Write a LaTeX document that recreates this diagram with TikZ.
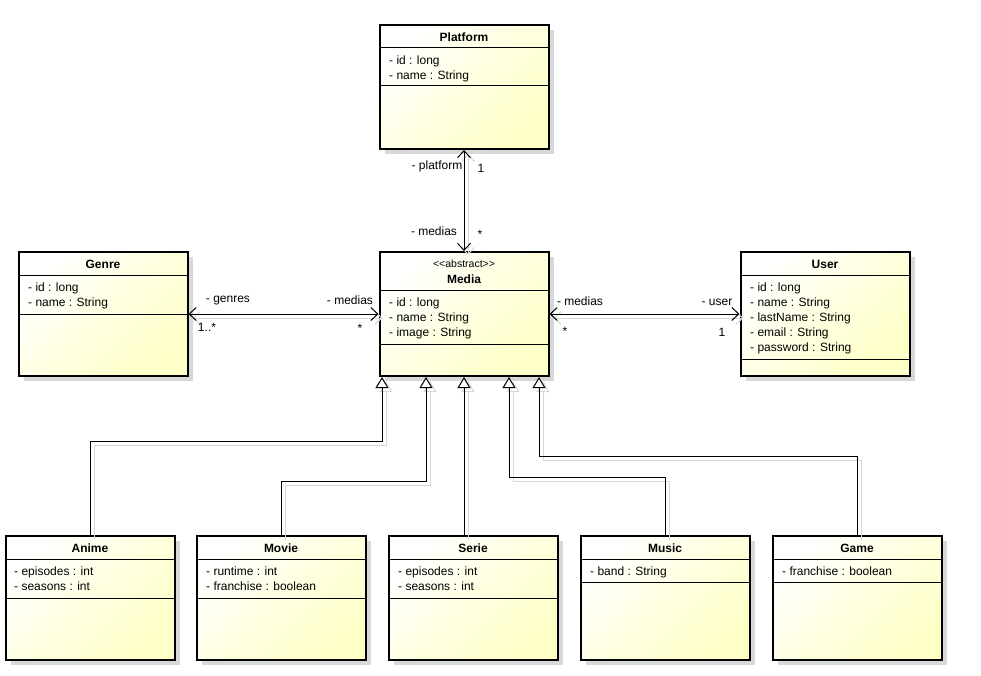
\documentclass[tikz,border=0pt]{standalone}
\usepackage{fontspec}
\setmainfont{Liberation Sans}
\usetikzlibrary{arrows.meta,shadows}

\definecolor{umlyellow}{HTML}{FFFFC8}
\definecolor{umlshadow}{HTML}{D8D8D8}

\tikzset{
  classbox/.style={draw=black, line width=2pt, minimum width=169pt, minimum height=124pt,
    inner sep=0pt, top color=white, bottom color=umlyellow, middle color=umlyellow!55!white,
    shading angle=45,
    drop shadow={shadow xshift=5pt, shadow yshift=-5pt, fill=umlshadow, opacity=1}},
  classname/.style={font=\fontsize{12}{14}\selectfont\bfseries, inner sep=0pt},
  stereo/.style={font=\fontsize{10.5}{12}\selectfont, inner sep=0pt},
  attrs/.style={anchor=north west, align=left, inner sep=0pt, font=\fontsize{12}{15}\selectfont},
  sepline/.style={line width=1pt},
  lbl/.style={font=\fontsize{12}{14}\selectfont, inner sep=0pt},
  assoc/.style={line width=1pt, {Straight Barb[length=7pt,width=13pt]}-{Straight Barb[length=7pt,width=13pt]}},
  genline/.style={line width=1pt, -{Triangle[open,length=11pt,width=13pt,fill=white]}},
  shadowlinks/.style={transform canvas={shift={(4pt,-4pt)}}, draw=umlshadow},
}

% all connectors, drawn once as shadow and once in black
\newcommand{\drawlinks}[1]{%
\draw[assoc,#1] (platform.south) -- (media.north);
\draw[assoc,#1] (genre.east) -- (media.west);
\draw[assoc,#1] (media.east) -- (user.west);
\draw[genline,#1] (anime.north) |- (ganime) -- (ganime |- media.south);
\draw[genline,#1] (movie.north) |- (gmovie) -- (gmovie |- media.south);
\draw[genline,#1] (media.south |- serie.north) -- (media.south);
\draw[genline,#1] (music.north) |- (gmusic) -- (gmusic |- media.south);
\draw[genline,#1] (game.north) |- (ggame) -- (ggame |- media.south);
}

\begin{document}
\begin{tikzpicture}[x=1pt,y=-1pt]
\useasboundingbox (0,0) rectangle (981,676);

% top row
\node[classbox] (platform) at (464,87) {};
\node[classname] (platformname) at (464,37) {Platform};
\draw[sepline] (380,48) -- (548,48);
\node[attrs] (platformattrs) at (389,56) {- id : long\\- name : String};
\draw[sepline] (380,86) -- (548,86);

% middle row
\node[classbox] (genre) at (103,314) {};
\node[classname] (genrename) at (103,264) {Genre};
\draw[sepline] (19,275) -- (187,275);
\node[attrs] (genreattrs) at (28,283) {- id : long\\- name : String};
\draw[sepline] (19,314) -- (187,314);

\node[classbox] (media) at (464,314) {};
\node[stereo] (mediastereo) at (464,264) {\textless\kern0pt\textless\kern0pt abstract\textgreater\kern0pt\textgreater};
\node[classname] (medianame) at (464,279) {Media};
\draw[sepline] (380,290) -- (548,290);
\node[attrs] (mediaattrs) at (389,298) {- id : long\\- name : String\\- image : String};
\draw[sepline] (380,344) -- (548,344);

\node[classbox] (user) at (825,314) {};
\node[classname] (username) at (825,264) {User};
\draw[sepline] (741,275) -- (909,275);
\node[attrs] (userattrs) at (750,283) {- id : long\\- name : String\\- lastName : String\\- email : String\\- password : String};
\draw[sepline] (741,359) -- (909,359);

% bottom row
\node[classbox] (anime) at (90,598) {};
\node[classname] (animename) at (90,548) {Anime};
\draw[sepline] (6,559) -- (174,559);
\node[attrs] (animeattrs) at (14,567) {- episodes : int\\- seasons : int};
\draw[sepline] (6,598) -- (174,598);

\node[classbox] (movie) at (281,598) {};
\node[classname] (moviename) at (281,548) {Movie};
\draw[sepline] (197,559) -- (365,559);
\node[attrs] (movieattrs) at (206,567) {- runtime : int\\- franchise : boolean};
\draw[sepline] (197,598) -- (365,598);

\node[classbox] (serie) at (473,598) {};
\node[classname] (seriename) at (473,548) {Serie};
\draw[sepline] (389,559) -- (557,559);
\node[attrs] (serieattrs) at (398,567) {- episodes : int\\- seasons : int};
\draw[sepline] (389,598) -- (557,598);

\node[classbox] (music) at (665,598) {};
\node[classname] (musicname) at (665,548) {Music};
\draw[sepline] (581,559) -- (749,559);
\node[attrs] (musicattrs) at (590,567) {- band : String};
\draw[sepline] (581,582) -- (749,582);

\node[classbox] (game) at (857,598) {};
\node[classname] (gamename) at (857,548) {Game};
\draw[sepline] (773,559) -- (941,559);
\node[attrs] (gameattrs) at (782,567) {- franchise : boolean};
\draw[sepline] (773,582) -- (941,582);

% bends of the generalizations
\coordinate (ganime) at (382,441);
\coordinate (gmovie) at (426,481);
\coordinate (gmusic) at (509,477);
\coordinate (ggame) at (539,456);

% connectors
\begin{scope}[on background layer/.try]
\drawlinks{shadowlinks}
\end{scope}
\drawlinks{}

\node[lbl] (lplatform) at (437,166) {- platform};
\node[lbl] (lplatformm) at (481,168) {1};
\node[lbl] (lmediastop) at (434,231) {- medias};
\node[lbl] (lmediastopm) at (480,234) {*};
\node[lbl] (lgenres) at (228,301) {- genres};
\node[lbl] (lgenresm) at (207,327) {1..*};
\node[lbl] (lmediasleft) at (350,300) {- medias};
\node[lbl] (lmediasleftm) at (360,328) {*};
\node[lbl] (lmediasright) at (580,301) {- medias};
\node[lbl] (lmediasrightm) at (565,331) {*};
\node[lbl] (luser) at (717,302) {- user};
\node[lbl] (luserm) at (722,332) {1};
\end{tikzpicture}
\end{document}
